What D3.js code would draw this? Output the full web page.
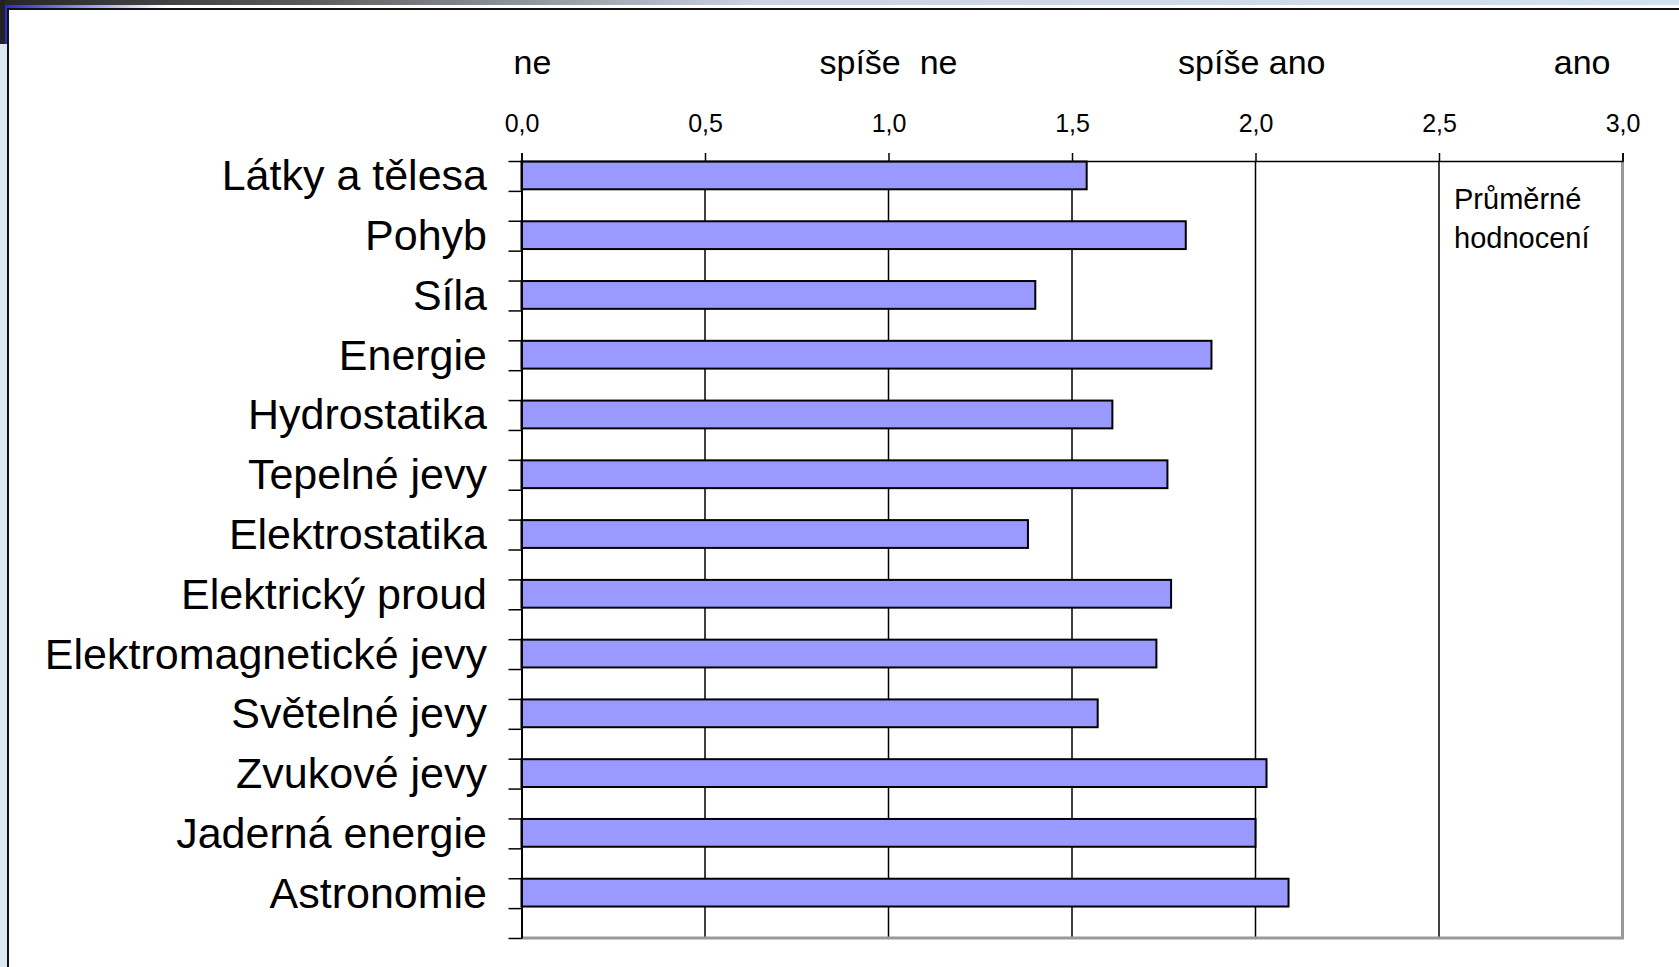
<!DOCTYPE html>
<html>
<head>
<meta charset="utf-8">
<script src="https://cdn.jsdelivr.net/npm/d3@7"></script>
<style>
  body { margin: 0; background: #fff; }
  svg { display: block; font-family: "Liberation Sans", Arial, sans-serif; }
</style>
</head>
<body>
<svg width="1679" height="967"></svg>
<script>
// data
var categories = ["Látky a tělesa", "Pohyb", "Síla", "Energie", "Hydrostatika", "Tepelné jevy",
  "Elektrostatika", "Elektrický proud", "Elektromagnetické jevy", "Světelné jevy",
  "Zvukové jevy", "Jaderná energie", "Astronomie"];
var values = [1.54, 1.81, 1.40, 1.88, 1.61, 1.76, 1.38, 1.77, 1.73, 1.57, 2.03, 2.00, 2.09];
var tickValues = [0, 0.5, 1.0, 1.5, 2.0, 2.5, 3.0];
var scaleWords = ["ne", "spíše  ne", "spíše ano", "ano"];
var scaleWordAt = [0.03, 1.0, 1.99, 2.89];

var svg = d3.select('svg');

// slide frame bits round the chart
var defs = svg.append('defs');
var g1 = defs.append('linearGradient').attr('id', 'topStrip');
g1.append('stop').attr('offset', '0%').attr('stop-color', '#262626');
g1.append('stop').attr('offset', '18%').attr('stop-color', '#5a5a5a');
g1.append('stop').attr('offset', '45%').attr('stop-color', '#c9d3e2');
g1.append('stop').attr('offset', '100%').attr('stop-color', '#d5e0ee');
var g2 = defs.append('linearGradient').attr('id', 'blueLine');
g2.append('stop').attr('offset', '0%').attr('stop-color', '#2b2bd0');
g2.append('stop').attr('offset', '100%').attr('stop-color', '#2b2bd0').attr('stop-opacity', 0);

svg.append('rect').attr('x', 0).attr('y', 0).attr('width', 1679).attr('height', 5).attr('fill', 'url(#topStrip)');
svg.append('rect').attr('x', 0).attr('y', 0).attr('width', 5).attr('height', 44).attr('fill', '#222');
svg.append('rect').attr('x', 0).attr('y', 44).attr('width', 7).attr('height', 923).attr('fill', '#dbe7f3');
svg.append('rect').attr('x', 5).attr('y', 5).attr('width', 160).attr('height', 3).attr('fill', 'url(#blueLine)');
svg.append('rect').attr('x', 5).attr('y', 5).attr('width', 3).attr('height', 39).attr('fill', '#2b2bd0');
svg.append('rect').attr('x', 8).attr('y', 8).attr('width', 1671).attr('height', 2).attr('fill', '#111');
svg.append('rect').attr('x', 7).attr('y', 8).attr('width', 2).attr('height', 959).attr('fill', '#111');

// scales
var x = d3.scaleLinear().domain([0, 3]).range([521.5, 1622.5]);
var y = d3.scaleBand().domain(categories).range([161, 938]).padding(0);
var yTick = d3.scaleLinear().domain([0, categories.length * 2]).range([161, 938]);

// grid lines
svg.append('g').selectAll('line')
  .data(tickValues.slice(1, -1))
  .enter()
  .append('line')
  .attr('x1', function(d) { return x(d); })
  .attr('x2', function(d) { return x(d); })
  .attr('y1', 161).attr('y2', 938)
  .attr('stroke', '#000').attr('stroke-width', 1.5);

// right and bottom plot border (grey)
svg.append('path')
  .attr('d', 'M' + x(0) + ',' + y.range()[1] + 'H' + x(3) + 'V' + y.range()[0])
  .attr('fill', 'none').attr('stroke', '#999').attr('stroke-width', 3);

// bars
svg.append('g').selectAll('rect')
  .data(values)
  .enter()
  .append('rect')
  .attr('x', x(0))
  .attr('y', function(d, i) { return y(categories[i]) + 0.5; })
  .attr('width', function(d) { return x(d) - x(0); })
  .attr('height', y.bandwidth() * 0.465)
  .attr('fill', '#9999ff')
  .attr('stroke', '#000')
  .attr('stroke-width', 2);

// top axis
var topAxis = svg.append('g')
  .attr('transform', 'translate(0,161)')
  .call(d3.axisTop(x).tickValues(tickValues).tickSize(8).tickPadding(21)
    .tickFormat(function(d) { return d3.format('.1f')(d).replace('.', ','); }));
topAxis.select('.domain').attr('stroke', '#000').attr('stroke-width', 1.5);
topAxis.selectAll('line').attr('stroke', '#000').attr('stroke-width', 1.5);
topAxis.selectAll('text').attr('font-size', 25).attr('fill', '#000')
  .attr('font-family', '"Liberation Sans", Arial, sans-serif');

// left axis, ticks every half band
var leftAxis = svg.append('g')
  .attr('transform', 'translate(' + x(0) + ',0)')
  .call(d3.axisLeft(yTick).ticks(categories.length * 2).tickSize(13).tickSizeOuter(0).tickFormat(''));
leftAxis.select('.domain').attr('stroke', '#000').attr('stroke-width', 2);
leftAxis.selectAll('line').attr('stroke', '#000').attr('stroke-width', 1.5);

// category labels
svg.append('g').selectAll('text')
  .data(categories)
  .enter()
  .append('text')
  .text(function(d) { return d; })
  .attr('x', 487)
  .attr('y', function(d) { return y(d) + y.bandwidth() * 0.24; })
  .attr('dy', '0.35em')
  .attr('text-anchor', 'end')
  .attr('font-size', 43)
  .attr('fill', '#000');

// answer scale words above the axis
svg.append('g').selectAll('text')
  .data(scaleWords)
  .enter()
  .append('text')
  .text(function(d) { return d; })
  .attr('x', function(d, i) { return x(scaleWordAt[i]); })
  .attr('y', 74)
  .attr('text-anchor', 'middle')
  .attr('font-size', 34)
  .style('white-space', 'pre')
  .attr('fill', '#000');

// note in the corner
svg.append('text').text('Průměrné').attr('x', 1454).attr('y', 209).attr('font-size', 29);
svg.append('text').text('hodnocení').attr('x', 1454).attr('y', 248).attr('font-size', 29);
</script>
</body>
</html>
